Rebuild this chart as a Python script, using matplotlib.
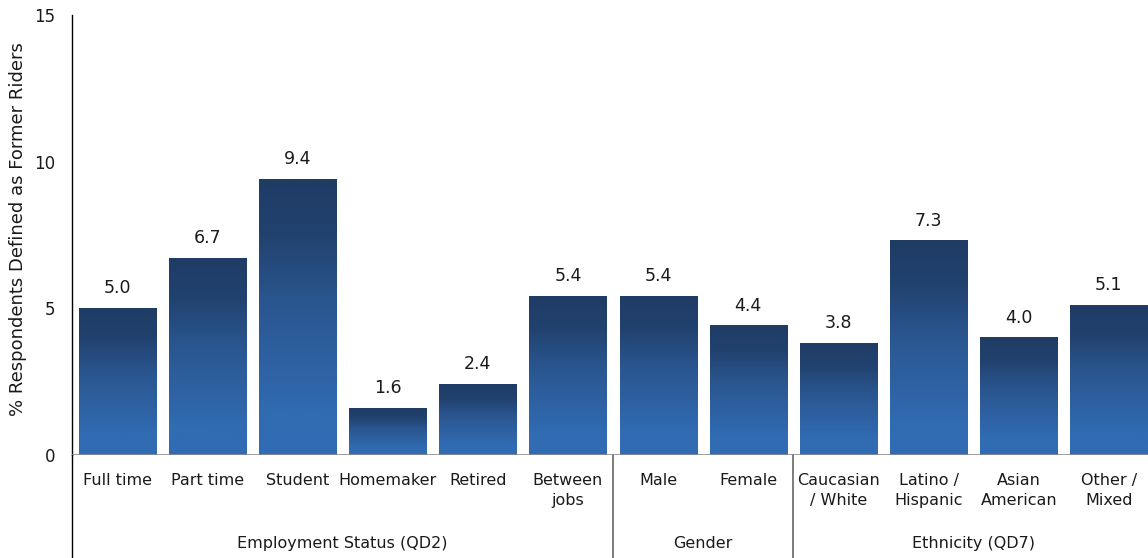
import numpy as np
import matplotlib
matplotlib.use("Agg")
import matplotlib.pyplot as plt
from matplotlib.colors import LinearSegmentedColormap

categories = ["Full time", "Part time", "Student", "Homemaker", "Retired",
              "Between\njobs", "Male", "Female", "Caucasian\n/ White",
              "Latino /\nHispanic", "Asian\nAmerican", "Other /\nMixed"]
values = [5.0, 6.7, 9.4, 1.6, 2.4, 5.4, 5.4, 4.4, 3.8, 7.3, 4.0, 5.1]
groups = ["Employment Status (QD2)", "Gender", "Ethnicity (QD7)"]
group_sizes = [6, 2, 4]
y_ticks = [0, 5, 10, 15]
y_label = "% Respondents Defined as Former Riders"

plt.rcParams["font.family"] = ["DejaVu Sans"]

fig = plt.figure(figsize=(11.48, 5.58), dpi=100)
ax = fig.add_axes([0.0627, 0.1846, 0.9425, 0.7885])

n = len(categories)
x = np.arange(n)
width = 0.855

# vertical gradient: lighter blue at the base, dark navy toward the top
cmap = LinearSegmentedColormap.from_list(
    "bar_grad",
    [(0.0, "#316cb4"), (0.15, "#316bb2"), (0.55, "#2a5690"),
     (0.8, "#21426f"), (1.0, "#1f3c65")])
grad = np.linspace(0, 1, 256).reshape(-1, 1)

for xi, v in zip(x, values):
    ax.imshow(grad, cmap=cmap, origin="lower", aspect="auto",
              extent=(xi - width / 2, xi + width / 2, 0, v), zorder=2)
    ax.annotate(f"{v:.1f}", (xi, v), xytext=(0, 8), textcoords="offset points",
                ha="center", va="bottom", fontsize=12.5, color="#1a1a1a")

ax.set_xlim(-0.5, n - 0.5)
ax.set_ylim(0, 15)
ax.set_yticks(y_ticks)
ax.set_yticklabels([str(t) for t in y_ticks], fontsize=12, color="#1a1a1a")
ax.tick_params(axis="y", length=0, pad=12)
ax.set_xticks([])

fig.text(0.016, 0.59, y_label, rotation=90, ha="center", va="center",
         fontsize=13, color="#1a1a1a")

for s in ["top", "right", "bottom"]:
    ax.spines[s].set_visible(False)
ax.spines["left"].set_color("#000000")
ax.spines["left"].set_linewidth(1.0)
ax.axhline(0, color="#8c8c8c", lw=1.2, zorder=3)

# extend left axis line down through the label area
ax.plot([-0.5, -0.5], [0, -3.52], color="#000000", lw=1.0, clip_on=False)

# category labels
for xi, c in zip(x, categories):
    ax.text(xi, -0.6, c, ha="center", va="top", fontsize=11.5,
            color="#1a1a1a", linespacing=1.45)

# group labels and separators
start = 0
for g, size in zip(groups, group_sizes):
    center = start + (size - 1) / 2
    ax.text(center, -2.75, g, ha="center", va="top", fontsize=11.5,
            color="#1a1a1a")
    end = start + size
    if end < n:
        ax.plot([end - 0.5, end - 0.5], [0, -3.52], color="#666666", lw=1.2,
                clip_on=False)
    start = end

fig.savefig("out.png", dpi=100)
